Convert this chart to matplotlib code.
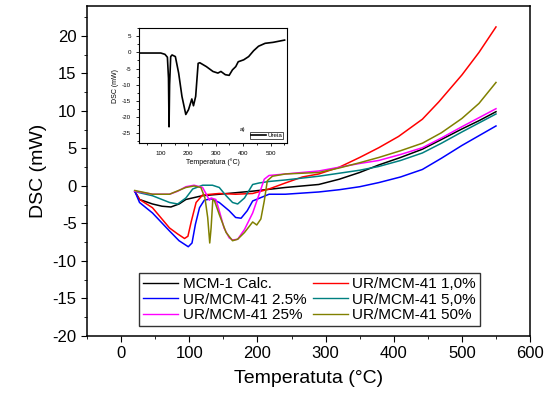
import matplotlib
matplotlib.use("Agg")
import matplotlib.pyplot as plt
from matplotlib.ticker import MultipleLocator

plt.rcParams['font.family'] = ['Liberation Sans', 'DejaVu Sans']
plt.rcParams['axes.unicode_minus'] = False

# dados (temperatura em C, DSC em mW)
t_mcm = [20, 27, 46, 60, 73, 85, 95, 119, 144, 192, 241, 290, 320, 350, 378, 410, 442, 470, 500, 525, 550]
dsc_mcm = [-0.7, -1.8, -2.4, -2.7, -2.8, -2.4, -1.8, -1.3, -1.1, -0.7, -0.2, 0.2, 0.9, 1.8, 2.8, 3.8, 4.9, 6.2, 7.6, 8.7, 9.9]

t_10 = [20, 27, 46, 71, 83, 93, 98, 103, 110, 119.5, 144, 168, 193, 217, 241, 266, 290, 320, 350, 378, 407, 442, 466, 500, 525, 550]
dsc_10 = [-0.7, -1.8, -2.9, -5.6, -6.4, -7.0, -6.7, -4.7, -2.2, -1.2, -1.0, -1.1, -1.0, -0.4, 0.4, 1.2, 1.6, 2.5, 3.8, 5.1, 6.6, 8.9, 11.2, 14.8, 17.8, 21.2]

t_25 = [20, 27, 46, 71, 85, 98.5, 104, 109, 115, 122, 132, 144, 158.5, 168, 176, 185, 193, 217, 241, 290, 320, 350, 378, 410, 442, 470, 500, 525, 550]
dsc_25 = [-0.7, -2.2, -3.6, -6.0, -7.3, -8.1, -7.6, -5.1, -2.9, -1.9, -1.7, -2.2, -3.3, -4.2, -4.3, -3.3, -2.0, -1.1, -1.1, -0.8, -0.5, -0.1, 0.45, 1.2, 2.2, 3.7, 5.4, 6.7, 8.0]

t_50c = [20, 27, 46, 71, 83, 95, 105, 119.5, 134, 144, 154, 163.5, 171, 181, 193, 202.5, 217, 241, 290, 320, 350, 378, 410, 442, 470, 500, 525, 550]
dsc_50c = [-0.7, -0.9, -1.3, -2.2, -2.4, -1.6, -0.4, 0.1, 0.1, -0.2, -1.3, -2.2, -2.4, -1.6, 0.2, 0.4, 0.6, 0.8, 1.3, 1.7, 2.1, 2.6, 3.4, 4.4, 5.7, 7.2, 8.4, 9.6]

t_250 = [20, 27, 46, 71, 83, 95, 107, 119.5, 125, 129.5, 132, 139, 144, 151, 158.5, 163.5, 171, 181, 193, 202.5, 210, 217, 241, 290, 320, 350, 378, 410, 442, 470, 500, 525, 550]
dsc_250 = [-0.7, -0.8, -1.1, -1.1, -0.7, -0.1, 0.1, -0.2, -1.1, -1.9, -1.6, -1.8, -3.3, -5.6, -6.9, -7.2, -7.1, -5.8, -3.6, -1.1, 0.9, 1.4, 1.6, 2.0, 2.5, 3.0, 3.4, 4.2, 5.1, 6.4, 7.9, 9.1, 10.3]

t_500 = [20, 46, 71, 95, 107, 117, 123, 127, 130, 132, 134.5, 137, 144, 154, 163.5, 171, 181, 193, 199, 205, 210, 214.5, 222, 241, 290, 320, 350, 378, 410, 442, 470, 500, 525, 550]
dsc_500 = [-0.6, -1.1, -1.1, -0.2, 0.0, -0.2, -1.6, -4.2, -7.6, -5.6, -1.8, -2.0, -3.8, -6.2, -7.3, -7.1, -6.2, -4.8, -5.2, -4.4, -2.0, 0.7, 1.3, 1.6, 1.8, 2.4, 3.1, 3.8, 4.7, 5.7, 7.1, 9.0, 11.0, 13.8]

# ureia pura (inset)
t_ur = [26, 100, 115, 124, 128, 130, 132, 136, 141, 153, 165, 177, 191, 201, 213, 219, 227, 236, 242, 266, 290, 308, 319, 335, 349, 361, 373, 382, 402, 420, 438, 456, 480, 509, 551]
dsc_ur = [-0.2, -0.2, -0.6, -1.5, -8.0, -23.0, -10.0, -1.3, -0.8, -1.3, -6.4, -13.6, -19.2, -17.7, -14.4, -16.5, -13.6, -3.4, -3.2, -4.4, -5.9, -6.4, -5.9, -6.9, -7.1, -5.4, -4.4, -2.9, -2.3, -1.3, 0.5, 1.9, 2.8, 3.1, 3.8]

fig = plt.figure(figsize=(5.51, 3.96), dpi=100)
ax = fig.add_axes([0.158, 0.1515, 0.804, 0.8335])

l_mcm, = ax.plot(t_mcm, dsc_mcm, color='black', lw=1.1, label='MCM-1 Calc.')
l_10, = ax.plot(t_10, dsc_10, color='red', lw=1.1, label='UR/MCM-41 1,0%')
l_25, = ax.plot(t_25, dsc_25, color='blue', lw=1.1, label='UR/MCM-41 2.5%')
l_50c, = ax.plot(t_50c, dsc_50c, color='#008080', lw=1.1, label='UR/MCM-41 5,0%')
l_250, = ax.plot(t_250, dsc_250, color='magenta', lw=1.1, label='UR/MCM-41 25%')
l_500, = ax.plot(t_500, dsc_500, color='#808000', lw=1.1, label='UR/MCM-41 50%')

ax.set_xlim(-50, 600)
ax.set_ylim(-20, 24)
ax.xaxis.set_major_locator(MultipleLocator(100))
ax.xaxis.set_minor_locator(MultipleLocator(50))
ax.yaxis.set_major_locator(MultipleLocator(5))
ax.yaxis.set_minor_locator(MultipleLocator(2.5))
ax.tick_params(which='both', direction='out', top=False, right=False, labelsize=12)
ax.tick_params(which='major', length=4)
ax.tick_params(which='minor', length=2.5)
for s in ax.spines.values():
    s.set_linewidth(1.1)
ax.set_xlabel('Temperatuta (\u00b0C)', fontsize=14, labelpad=6)
ax.set_ylabel('DSC (mW)', fontsize=14)

leg = ax.legend(handles=[l_mcm, l_25, l_250, l_10, l_50c, l_500], ncol=2,
                loc='lower left', bbox_to_anchor=(0.118, 0.03), fontsize=11,
                frameon=True, fancybox=False, edgecolor='black',
                handlelength=2.3, handletextpad=0.3, columnspacing=0.4,
                labelspacing=0.1, borderpad=0.25, borderaxespad=0)
leg.get_frame().set_linewidth(1.0)
for h in leg.get_lines():
    h.set_linewidth(1.0)

# inset ureia
axi = fig.add_axes([0.252, 0.639, 0.269, 0.290])
axi.plot(t_ur, dsc_ur, color='black', lw=1.2, label='Ureia')
axi.set_xlim(20, 560)
axi.set_ylim(-28, 7.5)
axi.xaxis.set_major_locator(MultipleLocator(100))
axi.xaxis.set_minor_locator(MultipleLocator(50))
axi.yaxis.set_major_locator(MultipleLocator(5))
axi.yaxis.set_minor_locator(MultipleLocator(2.5))
axi.tick_params(which='both', direction='out', top=False, right=False, labelsize=4.5, width=0.6)
axi.tick_params(which='major', length=2)
axi.tick_params(which='minor', length=1.2)
for s in axi.spines.values():
    s.set_linewidth(0.8)
axi.set_xlabel('Temperatura (\u00b0C)', fontsize=5, labelpad=2)
axi.set_ylabel('DSC (mW)', fontsize=5, labelpad=2)
li = axi.legend(loc='lower right', fontsize=4.5, frameon=True, fancybox=False,
                edgecolor='black', handlelength=2.5, handletextpad=0.2,
                borderpad=0.15, borderaxespad=0.6)
li.get_frame().set_linewidth(0.6)
axi.text(0.68, 0.115, 'a)', transform=axi.transAxes, fontsize=4.5, va='center')

fig.savefig('out.png', dpi=100)
